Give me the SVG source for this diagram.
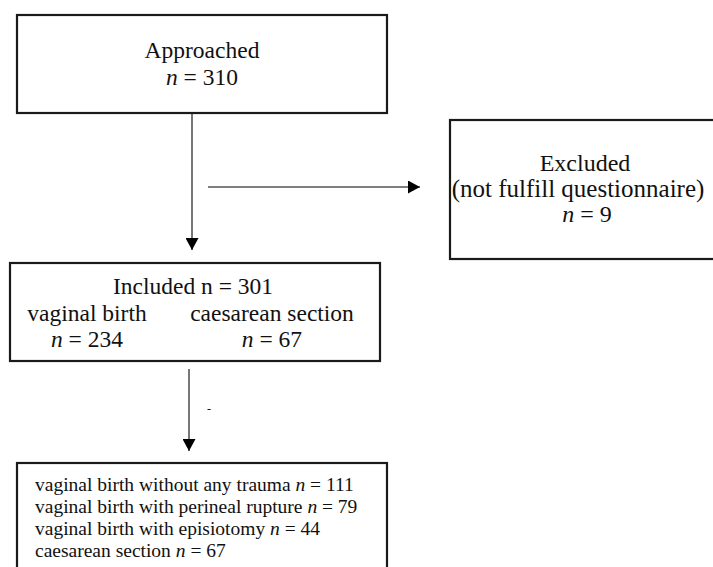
<svg xmlns="http://www.w3.org/2000/svg" width="713" height="567" viewBox="0 0 713 567">
<defs>
<style>
.box{fill:#fff;stroke:#1a1a1a;stroke-width:2.2}
.t{font-family:"Liberation Serif","Times New Roman",serif;fill:#111;font-size:23.5px}
.c{text-anchor:middle}
.s{font-size:19.5px}
.i{font-style:italic}
.ln{stroke:#555;stroke-width:1.6;fill:none}
</style>
<marker id="ah" viewBox="0 0 12 13" refX="12" refY="6.5" markerWidth="12" markerHeight="13" markerUnits="userSpaceOnUse" orient="auto">
<path d="M0,0 L12,6.5 L0,13 Z" fill="#000"/>
</marker>
</defs>
<rect width="713" height="567" fill="#fff"/>
<g id="connectors">
<line class="ln" x1="192" y1="113" x2="192" y2="250" marker-end="url(#ah)"/>
<line class="ln" x1="208" y1="187" x2="420" y2="187" marker-end="url(#ah)"/>
<line class="ln" x1="189" y1="369" x2="189" y2="451" marker-end="url(#ah)"/>
<text class="t" x="209" y="413" style="font-size:12px" text-anchor="middle">-</text>
</g>
<g id="approached">
<rect class="box" x="17" y="15" width="370" height="98"/>
<text class="t c" x="202" y="58">Approached</text>
<text class="t c" x="202" y="85"><tspan class="i">n</tspan> = 310</text>
</g>
<g id="excluded">
<rect class="box" x="450" y="120" width="280" height="139"/>
<text class="t c" x="585" y="171" style="font-size:24px">Excluded</text>
<text class="t c" x="578" y="197" style="font-size:25px">(not fulfill questionnaire)</text>
<text class="t c" x="587" y="222" style="font-size:24px"><tspan class="i">n</tspan> = 9</text>
</g>
<g id="included">
<rect class="box" x="10" y="263" width="370" height="98"/>
<text class="t c" x="193" y="294">Included n = 301</text>
<text class="t c" x="87" y="321">vaginal birth</text>
<text class="t c" x="87" y="347"><tspan class="i">n</tspan> = 234</text>
<text class="t c" x="272" y="321">caesarean section</text>
<text class="t c" x="272" y="347"><tspan class="i">n</tspan> = 67</text>
</g>
<g id="outcomes">
<rect class="box" x="17" y="463" width="370" height="130"/>
<text class="t s" x="35" y="491">vaginal birth without any trauma <tspan class="i">n</tspan> = 111</text>
<text class="t s" x="35" y="513">vaginal birth with perineal rupture <tspan class="i">n</tspan> = 79</text>
<text class="t s" x="35" y="535">vaginal birth with episiotomy <tspan class="i">n</tspan> = 44</text>
<text class="t s" x="35" y="557">caesarean section <tspan class="i">n</tspan> = 67</text>
</g>
</svg>
